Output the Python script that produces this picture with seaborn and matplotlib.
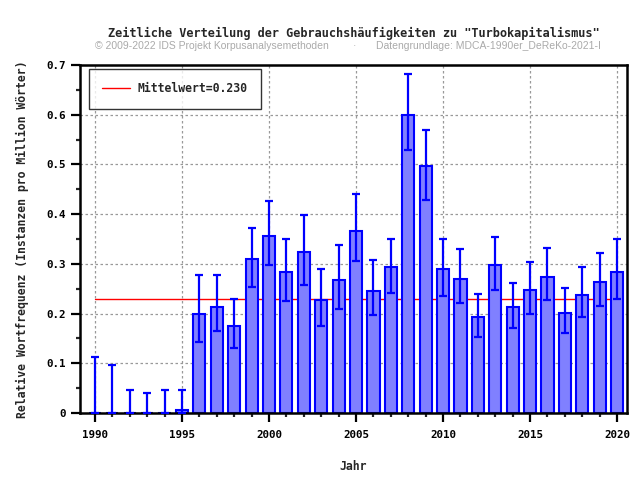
import matplotlib
matplotlib.use("Agg")
import matplotlib.pyplot as plt
from matplotlib.ticker import MultipleLocator
import seaborn as sns
import numpy as np
import pandas as pd

years = list(range(1990, 2021))
values = [0.0, 0.0, 0.0, 0.0, 0.0, 0.007, 0.200, 0.214, 0.174, 0.309, 0.357,
          0.283, 0.323, 0.227, 0.267, 0.367, 0.246, 0.293, 0.600, 0.496, 0.289,
          0.270, 0.193, 0.297, 0.213, 0.247, 0.274, 0.202, 0.238, 0.264, 0.284]
err_low = [0.0, 0.0, 0.0, 0.0, 0.0, 0.0, 0.143, 0.164, 0.131, 0.254, 0.298,
           0.226, 0.258, 0.174, 0.210, 0.306, 0.198, 0.242, 0.530, 0.429, 0.236,
           0.222, 0.152, 0.247, 0.170, 0.200, 0.228, 0.160, 0.194, 0.216, 0.230]
err_high = [0.113, 0.097, 0.047, 0.041, 0.047, 0.047, 0.278, 0.278, 0.230, 0.373, 0.427,
            0.350, 0.399, 0.290, 0.337, 0.441, 0.308, 0.350, 0.681, 0.570, 0.351,
            0.329, 0.240, 0.355, 0.262, 0.303, 0.331, 0.252, 0.294, 0.322, 0.351]
mean_value = 0.230

title = 'Zeitliche Verteilung der Gebrauchshäufigkeiten zu "Turbokapitalismus"'
subtitle_left = "© 2009-2022 IDS Projekt Korpusanalysemethoden"
subtitle_right = "Datengrundlage: MDCA-1990er_DeReKo-2021-I"
xlabel = "Jahr"
ylabel = "Relative Wortfrequenz (Instanzen pro Million Wörter)"

df = pd.DataFrame({"Jahr": years, "Wert": values})

sns.set_style("white")
mono = ["DejaVu Sans Mono"]
plt.rcParams["font.family"] = mono

fig = plt.figure(figsize=(6.4, 4.8), dpi=100)
ax = fig.add_axes([80 / 640, 1 - 413 / 480, (627 - 80) / 640, (413 - 65) / 480])

# mean line behind bars
ax.plot([years[0], years[-1]], [mean_value, mean_value], color="red", lw=1.0,
        zorder=1, label=f"Mittelwert={mean_value:.3f}")

sns.barplot(data=df, x="Jahr", y="Wert", native_scale=True, ax=ax,
            color="#8080ff", saturation=1, edgecolor="#0000ff", linewidth=1.5,
            errorbar=None, zorder=2, width=0.7)

vals = np.array(values)
yerr = np.vstack([vals - np.array(err_low), np.array(err_high) - vals])
ax.errorbar(years, values, yerr=yerr, fmt="none", ecolor="#0000ff",
            elinewidth=1.6, capsize=3, capthick=1.6, zorder=3)

ax.set_xlim(1989.14, 2020.57)
ax.set_ylim(0, 0.7)
ax.xaxis.set_major_locator(MultipleLocator(5))
ax.xaxis.set_minor_locator(MultipleLocator(1))
ax.yaxis.set_major_locator(MultipleLocator(0.1))
ax.yaxis.set_minor_locator(MultipleLocator(0.05))
ax.set_yticks(np.arange(0, 0.71, 0.1))
ax.set_yticklabels(["0"] + [f"{v:.1f}" for v in np.arange(0.1, 0.71, 0.1)])

ax.grid(True, which="major", color="#999999", linestyle=(0, (2, 2)), lw=0.9)
ax.set_axisbelow(True)
for s in ax.spines.values():
    s.set_visible(True)
    s.set_color("black")
    s.set_linewidth(1.8)

ax.tick_params(axis="both", which="major", direction="out", length=6.5, width=1.6,
               labelsize=7.8, pad=4, colors="black")
ax.tick_params(axis="both", which="minor", direction="out", length=3, width=1.6)
ax.tick_params(axis="x", which="major", pad=6)
ax.tick_params(bottom=True, left=True, which="both")
for lbl in ax.get_xticklabels() + ax.get_yticklabels():
    lbl.set_fontweight("bold")

ax.set_xlabel(xlabel, fontsize=8.3, fontweight="bold", labelpad=14)
ax.set_ylabel(ylabel, fontsize=8.3, fontweight="bold", labelpad=12)

leg = ax.legend(loc="upper left", bbox_to_anchor=(9 / 547, 1 - 4 / 348), frameon=True,
                fancybox=False, edgecolor="black", handlelength=2.4,
                borderaxespad=0, borderpad=1.15, handletextpad=0.7,
                prop={"family": mono, "weight": "bold", "size": 8.3})
leg.get_frame().set_linewidth(1.0)

fig.text(353.5 / 640, 1 - 33 / 480, title, ha="center", va="center",
         fontsize=8.6, fontweight="bold", family=mono)
fig.text(95 / 640, 1 - 46 / 480, subtitle_left, ha="left", va="center",
         fontsize=7.5, color="#aaaaaa", family=["Liberation Sans"])
fig.text(355 / 640, 1 - 46 / 480, "·", ha="center", va="center",
         fontsize=7.5, color="#aaaaaa", family=["Liberation Sans"])
fig.text(376 / 640, 1 - 46 / 480, subtitle_right, ha="left", va="center",
         fontsize=7.5, color="#aaaaaa", family=["Liberation Sans"])

fig.savefig("out.png", dpi=100, facecolor="white")
